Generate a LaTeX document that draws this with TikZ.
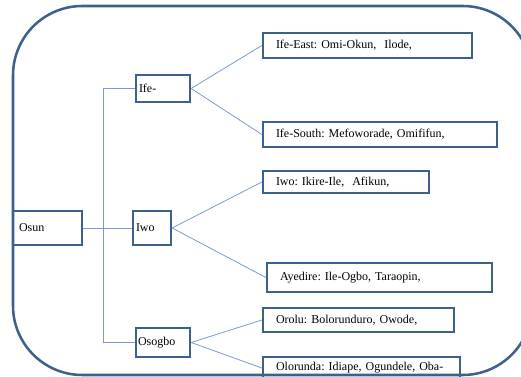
\documentclass[tikz,border=0pt]{standalone}
\usepackage{fontspec}
\setmainfont{Liberation Serif}
\frenchspacing
\definecolor{boxblue}{RGB}{62,96,140}
\definecolor{linkblue}{RGB}{122,156,208}
\tikzset{
  box/.style={draw=boxblue, line width=1.7pt, rectangle, align=left,
    inner ysep=0pt, font=\fontsize{9}{11}\selectfont},
  leaf/.style 2 args={box, inner xsep=9.75pt, text width=#1, minimum height=#2},
  link/.style={draw=linkblue, line width=0.6pt}
}
\begin{document}
\begin{tikzpicture}[x=0.75pt, y=-0.75pt]
  \useasboundingbox (0,0) rectangle (521,377);
  % outer frame, runs off the right edge
  \draw[boxblue, line width=1.9pt, rounded corners=52pt] (13,6) rectangle (532,375);
  % left column
  \node[box, inner xsep=4.5pt, text width=42.75pt, minimum height=25.5pt] (osun) at (47.5,228) {Osun};
  \node[box, inner xsep=2.25pt, text width=36pt, minimum height=20.25pt] (ife) at (163,88.5) {Ife-};
  \node[box, inner xsep=2.25pt, text width=24pt, minimum height=25.5pt] (iwo) at (152,228) {Iwo};
  \node[box, inner xsep=1.5pt, text width=37.5pt, minimum height=21.75pt] (osogbo) at (163,342.5) {Osogbo};
  % right column
  \node[leaf={137.25pt}{18.75pt}] (ifeeast) at (367.5,45.5) {Ife-East: Omi-Okun,\ \ Ilode,};
  \node[leaf={156pt}{18.75pt}] (ifesouth) at (380,134.5) {Ife-South: Mefoworade, Omififun,};
  \node[leaf={105pt}{16.5pt}] (iwoikire) at (346,182) {Iwo: Ikire-Ile,\ \ Afikun,};
  \node[leaf={149.25pt}{21.75pt}] (ayedire) at (379.5,277.5) {Ayedire: Ile-Ogbo, Taraopin,};
  \node[leaf={123.75pt}{18pt}] (orolu) at (358.5,320) {Orolu: Bolorunduro, Owode,};
  \node[leaf={128.25pt}{16.5pt}] (olorunda) at (361.5,368) {Olorunda: Idiape, Ogundele, Oba-};
  % connectors
  \draw[link] (osun.east) -- (iwo.west);
  \draw[link] (ife.west) -- ++(-31,0) |- (osogbo.west);
  \draw[link] (ife.east) -- (ifeeast.west);
  \draw[link] (ife.east) -- (ifesouth.west);
  \draw[link] (iwo.east) -- (iwoikire.west);
  \draw[link] (iwo.east) -- (ayedire.west);
  \draw[link] (osogbo.east) -- (orolu.west);
  \draw[link] (osogbo.east) -- (olorunda.west);
\end{tikzpicture}
\end{document}
